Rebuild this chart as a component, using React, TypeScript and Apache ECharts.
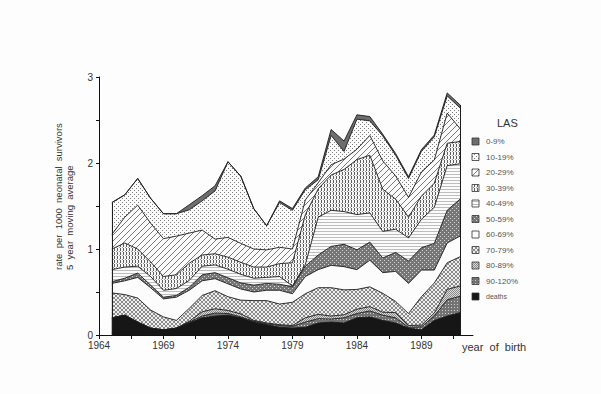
import React, { useEffect, useRef } from 'react';
import * as echarts from 'echarts';

const years = [1965, 1966, 1967, 1968, 1969, 1970, 1971, 1972, 1973, 1974, 1975, 1976, 1977, 1978, 1979, 1980, 1981, 1982, 1983, 1984, 1985, 1986, 1987, 1988, 1989, 1990, 1991, 1992];

const deaths = [0.20, 0.23, 0.15, 0.08, 0.06, 0.08, 0.14, 0.20, 0.22, 0.23, 0.20, 0.15, 0.12, 0.09, 0.08, 0.09, 0.14, 0.15, 0.14, 0.20, 0.21, 0.17, 0.14, 0.08, 0.06, 0.17, 0.22, 0.26];
const las90 = [0, 0, 0, 0, 0, 0, 0.01, 0.02, 0.035, 0.02, 0.01, 0.01, 0.01, 0.02, 0.02, 0.06, 0.05, 0.035, 0.06, 0.05, 0.07, 0.06, 0.06, 0.01, 0.035, 0.05, 0.19, 0.19];
const las80 = [0, 0, 0, 0, 0, 0, 0.01, 0.05, 0.05, 0.035, 0.035, 0.01, 0.01, 0.01, 0.01, 0.05, 0.05, 0.035, 0.035, 0.05, 0.05, 0.035, 0.06, 0.02, 0.02, 0.035, 0.12, 0.12];
const las70 = [0.29, 0.24, 0.28, 0.21, 0.15, 0.09, 0.15, 0.19, 0.21, 0.16, 0.16, 0.23, 0.26, 0.24, 0.27, 0.28, 0.31, 0.33, 0.29, 0.23, 0.23, 0.22, 0.13, 0.14, 0.33, 0.35, 0.31, 0.34];
const las60 = [0.11, 0.16, 0.24, 0.26, 0.21, 0.27, 0.21, 0.17, 0.14, 0.15, 0.13, 0.10, 0.12, 0.16, 0.10, 0.20, 0.21, 0.26, 0.27, 0.23, 0.31, 0.24, 0.35, 0.35, 0.31, 0.15, 0.23, 0.24];
const las50 = [0.02, 0.03, 0.05, 0.03, 0.02, 0.02, 0.035, 0.07, 0.07, 0.07, 0.07, 0.08, 0.08, 0.07, 0.08, 0.12, 0.17, 0.22, 0.26, 0.23, 0.21, 0.17, 0.22, 0.26, 0.26, 0.31, 0.38, 0.43];
const las40 = [0.14, 0.13, 0.08, 0.10, 0.08, 0.08, 0.08, 0.10, 0.09, 0.10, 0.10, 0.08, 0.07, 0.09, 0.01, 0.02, 0.44, 0.42, 0.38, 0.41, 0.34, 0.31, 0.27, 0.27, 0.33, 0.42, 0.52, 0.41];
const las30 = [0.24, 0.28, 0.20, 0.17, 0.16, 0.16, 0.20, 0.13, 0.13, 0.14, 0.14, 0.13, 0.12, 0.15, 0.27, 0.58, 0.33, 0.41, 0.49, 0.64, 0.67, 0.49, 0.35, 0.24, 0.27, 0.28, 0.26, 0.26];
const las20 = [0.17, 0.30, 0.51, 0.45, 0.44, 0.45, 0.35, 0.29, 0.17, 0.23, 0.22, 0.21, 0.20, 0.19, 0.16, 0.17, 0.07, 0.12, 0.12, 0.12, 0.23, 0.33, 0.27, 0.23, 0.28, 0.27, 0.35, 0.15];
const las10 = [0.37, 0.26, 0.31, 0.29, 0.29, 0.26, 0.27, 0.34, 0.56, 0.88, 0.78, 0.47, 0.28, 0.52, 0.45, 0.12, 0.035, 0.34, 0.09, 0.35, 0.17, 0.29, 0.24, 0.22, 0.24, 0.27, 0.20, 0.24];
const las0 = [0, 0, 0, 0, 0, 0, 0.06, 0.06, 0.06, 0, 0, 0, 0, 0.02, 0.02, 0.02, 0.035, 0.07, 0.12, 0.05, 0.05, 0.02, 0.02, 0.02, 0.02, 0.02, 0.035, 0.035];

// stacking order: bottom first
const layerNames = ['deaths', '90-120%', '80-89%', '70-79%', '60-69%', '50-59%', '40-49%', '30-39%', '20-29%', '10-19%', '0-9%'];
const layerValues = [deaths, las90, las80, las70, las60, las50, las40, las30, las20, las10, las0];
// legend order: top first
const legendNames = ['0-9%', '10-19%', '20-29%', '30-39%', '40-49%', '50-59%', '60-69%', '70-79%', '80-89%', '90-120%', 'deaths'];

const yTicks = [0, 1, 2, 3];
const xLabelYears = [1964, 1969, 1974, 1979, 1984, 1989];

const FONT = '"Liberation Sans", Arial, sans-serif';

type Pix = [number, number, string];
function makePattern(w: number, h: number, bg: string, pix: Pix[]) {
  const c = document.createElement('canvas');
  c.width = w;
  c.height = h;
  const ctx = c.getContext('2d') as CanvasRenderingContext2D;
  ctx.fillStyle = bg;
  ctx.fillRect(0, 0, w, h);
  for (const [x, y, col] of pix) {
    ctx.fillStyle = col;
    ctx.fillRect(x, y, 1, 1);
  }
  return { image: c.toDataURL(), repeat: 'repeat', imageWidth: w, imageHeight: h };
}

function buildFills(): Record<string, any> {
  const diag: Pix[] = [];
  for (let i = 0; i < 6; i++) diag.push([5 - i, i, '#7a7a7a']);
  const cross: Pix[] = [];
  for (let i = 0; i < 4; i++) {
    cross.push([i, i, '#8a8a8a']);
    cross.push([3 - i, i, '#8a8a8a']);
  }
  const hlines: Pix[] = [];
  for (let i = 0; i < 4; i++) hlines.push([i, 0, '#bdbdbd']);
  return {
    '0-9%': '#6e6e6e',
    '10-19%': makePattern(4, 4, '#fbfbfb', [[0, 0, '#7d7d7d'], [2, 2, '#7d7d7d']]),
    '20-29%': makePattern(6, 6, '#fbfbfb', diag),
    '30-39%': makePattern(3, 4, '#f6f6f6', [[0, 0, '#5e5e5e'], [0, 1, '#5e5e5e'], [0, 2, '#5e5e5e'], [2, 3, '#9a9a9a']]),
    '40-49%': makePattern(4, 3, '#fbfbfb', hlines),
    '50-59%': makePattern(4, 4, '#767676', [[0, 0, '#d4d4d4'], [2, 2, '#d4d4d4']]),
    '60-69%': '#fcfcfc',
    '70-79%': makePattern(4, 4, '#efefef', cross),
    '80-89%': makePattern(2, 2, '#dadada', [[0, 0, '#8a8a8a'], [1, 1, '#8a8a8a']]),
    '90-120%': makePattern(3, 3, '#727272', [[1, 1, '#cfcfcf']]),
    deaths: '#161616',
  };
}

export default function App() {
  const ref = useRef<HTMLDivElement>(null);

  useEffect(() => {
    if (!ref.current) return;
    const chart = echarts.init(ref.current, undefined, { renderer: 'svg', width: 601, height: 394 });
    const fills = buildFills();

    // cumulative tops of each layer (bottom layer first)
    const cumulative: number[][] = [];
    layerValues.forEach((arr, li) => {
      cumulative.push(arr.map((v, i) => (li === 0 ? v : cumulative[li - 1][i] + v)));
    });
    const totals = cumulative[cumulative.length - 1];
    const last = years.length - 1;

    // draw from the top layer down so lower layers cover the upper layers' fill
    const series: any[] = [];
    for (let li = layerNames.length - 1; li >= 0; li--) {
      const name = layerNames[li];
      const s: any = {
        name,
        type: 'line',
        symbol: 'none',
        showSymbol: false,
        smooth: false,
        data: years.map((y, i) => [y, cumulative[li][i]]),
        lineStyle: { color: '#1c1c1c', width: 0.9 },
        areaStyle: { color: fills[name], opacity: 1, origin: 'start' },
        itemStyle: { color: '#1c1c1c' },
        silent: true,
      };
      if (li === layerNames.length - 1) {
        s.markLine = {
          silent: true,
          symbol: 'none',
          label: { show: false },
          lineStyle: { color: '#1c1c1c', width: 1, type: 'solid' },
          data: [
            [{ coord: [years[0], 0] }, { coord: [years[0], totals[0]] }],
            [{ coord: [years[last], 0] }, { coord: [years[last], totals[last]] }],
          ],
        };
      }
      series.push(s);
    }

    const graphics: any[] = [];
    graphics.push({
      type: 'text',
      x: 497,
      y: 123,
      style: { text: 'LAS', fontSize: 11, fontFamily: FONT, fill: '#333', verticalAlign: 'middle' },
    });
    legendNames.forEach((name, i) => {
      const cy = 141.5 + i * 15.5;
      graphics.push({
        type: 'rect',
        shape: { x: 472, y: cy - 3.5, width: 7, height: 7 },
        style: { fill: fills[name], stroke: '#333', lineWidth: 0.8 },
      });
      graphics.push({
        type: 'text',
        x: 486,
        y: cy,
        style: {
          text: name,
          fontSize: name === 'deaths' ? 7 : 8,
          fontFamily: FONT,
          fill: '#555',
          verticalAlign: 'middle',
        },
      });
    });
    graphics.push({
      type: 'text',
      x: 64,
      y: 270,
      rotation: Math.PI / 2,
      style: {
        text: 'rate  per  1000  neonatal  survivors\n5  year  moving  average',
        fontSize: 9.5,
        lineHeight: 10.5,
        fontFamily: FONT,
        fill: '#333',
        align: 'left',
        verticalAlign: 'middle',
      },
    });
    graphics.push({
      type: 'text',
      x: 462,
      y: 347,
      style: {
        text: 'year  of  birth',
        fontSize: 11,
        fontFamily: FONT,
        fill: '#333',
        align: 'left',
        verticalAlign: 'middle',
      },
    });

    chart.setOption({
      animation: false,
      backgroundColor: '#fdfdfd',
      grid: { left: 99, right: 128, top: 77, bottom: 59, containLabel: false },
      xAxis: {
        type: 'value',
        min: 1964,
        max: 1993,
        interval: 2.5,
        axisLine: { show: true, onZero: false, lineStyle: { color: '#111', width: 1 } },
        axisTick: { show: true, inside: false, length: 4, lineStyle: { color: '#111' } },
        splitLine: { show: false },
        axisLabel: {
          margin: 5,
          fontSize: 10,
          lineHeight: 10,
          fontFamily: FONT,
          color: '#333',
          showMaxLabel: false,
          formatter: (v: number) => (xLabelYears.indexOf(v) >= 0 ? String(v) : ''),
        },
      },
      yAxis: {
        type: 'value',
        min: 0,
        max: 3,
        interval: 0.5,
        axisLine: { show: true, lineStyle: { color: '#111', width: 1 } },
        axisTick: { show: true, inside: false, length: 3, lineStyle: { color: '#111' } },
        splitLine: { show: false },
        axisLabel: {
          margin: 6,
          fontSize: 10,
          lineHeight: 10,
          fontFamily: FONT,
          color: '#333',
          formatter: (v: number) => (yTicks.indexOf(v) >= 0 ? String(v) : ''),
        },
      },
      series,
      graphic: graphics,
    });

    return () => {
      chart.dispose();
    };
  }, []);

  return (
    <div
      ref={ref}
      style={{ position: 'fixed', left: 0, top: 0, width: 601, height: 394, background: '#fdfdfd' }}
    />
  );
}
